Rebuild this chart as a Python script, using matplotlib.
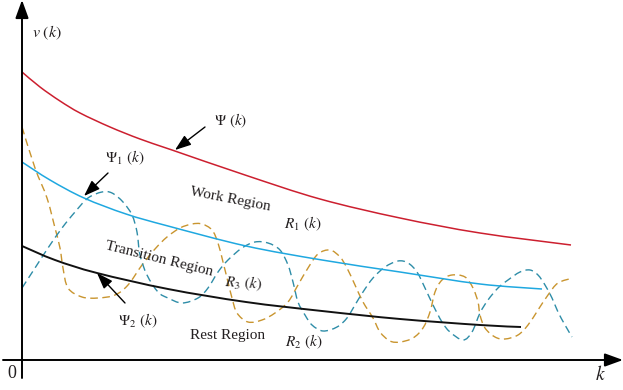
import matplotlib
matplotlib.use("Agg")
import matplotlib.pyplot as plt
from matplotlib.path import Path
from matplotlib.patches import PathPatch

plt.rcParams["font.family"] = ["Liberation Serif", "DejaVu Serif"]
plt.rcParams["mathtext.fontset"] = "stix"

# Upper bound Psi(k)
psi_k = [0, 18, 38, 58, 88, 118, 150, 223, 298, 378, 458, 549]
psi_v = [288, 273, 259, 247, 233, 221, 210, 185, 161, 142, 127, 115]

# Upper threshold Psi_1(k)
psi1_k = [0, 28, 62, 104, 146, 224, 300, 378, 458, 520]
psi1_v = [198, 180, 162, 146, 134, 114, 100, 88, 76, 71]

# Lower threshold Psi_2(k)
psi2_k = [0, 33, 75, 146, 224, 300, 378, 458, 499]
psi2_v = [114, 100, 87, 71, 58, 49, 41, 35, 33]

# Trajectory A (gold, dashed)
traj_a_k = [0, 13, 25, 33, 38, 41, 46, 60, 76, 93, 106, 120, 133, 145, 158, 170,
            180, 190, 196, 201, 206, 210, 215, 226, 240, 253, 266, 276, 286, 296,
            308, 318, 325, 333, 341, 351, 358, 368, 378, 391, 401, 408, 413, 420,
            430, 443, 451, 456, 458, 463, 473, 483, 496, 506, 516, 526, 536, 551]
traj_a_v = [233, 192, 162, 132, 112, 92, 72, 63, 62, 65, 75, 95, 111, 123, 132, 136,
            136, 130, 117, 98, 78, 62, 47, 38, 40, 47, 58, 75, 92, 106,
            110, 103, 92, 75, 58, 42, 28, 19, 18, 22, 32, 48, 68, 80,
            85, 83, 72, 58, 45, 32, 23, 21, 25, 35, 50, 65, 77, 82]

# Trajectory B (teal, dashed)
traj_b_k = [0, 13, 26, 40, 53, 66, 80, 90, 101, 110, 115, 118, 125, 136, 146, 160,
            176, 186, 196, 206, 220, 233, 246, 258, 266, 271, 276, 283, 290, 301,
            315, 325, 333, 341, 351, 363, 376, 386, 395, 403, 411, 420, 428, 441,
            450, 458, 466, 476, 486, 498, 508, 516, 523, 530, 536, 543, 550]
traj_b_v = [72, 92, 112, 132, 148, 162, 168, 167, 158, 145, 128, 105, 85, 68, 62, 57,
            62, 72, 88, 100, 112, 118, 117, 110, 95, 78, 58, 45, 35, 29,
            33, 42, 55, 68, 82, 93, 99, 97, 88, 72, 55, 38, 28, 20,
            28, 47, 60, 72, 80, 88, 90, 85, 75, 62, 48, 35, 23]


def smooth_path(xs, ys):
    """Cubic Bezier path passing through every (x, y) pair (Catmull-Rom tangents)."""
    pts = list(zip(xs, ys))
    n = len(pts)
    verts = [pts[0]]
    codes = [Path.MOVETO]
    for i in range(n - 1):
        p0 = pts[i - 1] if i > 0 else pts[i]
        p1 = pts[i]
        p2 = pts[i + 1]
        p3 = pts[i + 2] if i + 2 < n else pts[i + 1]
        c1 = (p1[0] + (p2[0] - p0[0]) / 6, p1[1] + (p2[1] - p0[1]) / 6)
        c2 = (p2[0] - (p3[0] - p1[0]) / 6, p2[1] - (p3[1] - p1[1]) / 6)
        verts += [c1, c2, p2]
        codes += [Path.CURVE4] * 3
    return Path(verts, codes)


def curve(ax, xs, ys, color, lw, ls="-"):
    ax.add_patch(PathPatch(smooth_path(xs, ys), facecolor="none", edgecolor=color,
                           lw=lw, linestyle=ls, capstyle="butt"))


fig = plt.figure(figsize=(6.23, 3.90), dpi=100)
ax = fig.add_axes([0, 0, 1, 1])
ax.set_xlim(-22, 601)
ax.set_ylim(-30, 360)
ax.axis("off")

curve(ax, traj_a_k, traj_a_v, "#C9952F", 1.0, (0, (5.5, 3.2)))
curve(ax, traj_b_k, traj_b_v, "#2E8DA8", 1.0, (0, (5.5, 3.2)))
curve(ax, psi_k, psi_v, "#CC1F2F", 1.1)
curve(ax, psi1_k, psi1_v, "#1FA8E0", 1.1)
curve(ax, psi2_k, psi2_v, "#111111", 1.4)

# Coordinate axes with arrow heads
axis_style = dict(arrowstyle="-|>,head_length=0.55,head_width=0.2",
                  color="black", lw=1.4, shrinkA=0, shrinkB=0, mutation_scale=20)
ax.annotate("", xy=(0, 360), xytext=(0, -18), arrowprops=axis_style)
ax.annotate("", xy=(601, 0), xytext=(-19, 0), arrowprops=axis_style)

# Pointer arrows to the boundary curves
ptr = dict(arrowstyle="-|>,head_length=0.7,head_width=0.25", color="black",
           lw=1.0, shrinkA=0, shrinkB=0, mutation_scale=14)
ax.annotate("", xy=(153, 210), xytext=(183, 233), arrowprops=ptr)
ax.annotate("", xy=(62, 164), xytext=(86, 187), arrowprops=ptr)
ax.annotate("", xy=(75, 87), xytext=(103, 57), arrowprops=ptr)

tc = "#231F20"


def label(x, y, s, rot=0, fs=11):
    ax.text(x, y, s, fontsize=fs, color=tc, ha="center", va="center",
            rotation=rot, rotation_mode="anchor")


label(25, 327, r"$v\ (k)$", fs=11.5)
label(209, 239, r"$\Psi\ (k)$")
label(103, 202, r"$\Psi_1\ (k)$")
label(116, 39, r"$\Psi_2\ (k)$")
label(208, 161, "Work Region", rot=-11)
label(281, 136, r"$R_1\ (k)$")
label(137, 101, "Transition Region", rot=-14)
label(221, 77, r"$R_3\ (k)$", rot=-4)
label(206, 25, "Rest Region")
label(282, 18, r"$R_2\ (k)$")
label(-10, -14, "0", fs=13)
label(578, -15, r"$k$", fs=14)

fig.savefig("out.png", dpi=100)
